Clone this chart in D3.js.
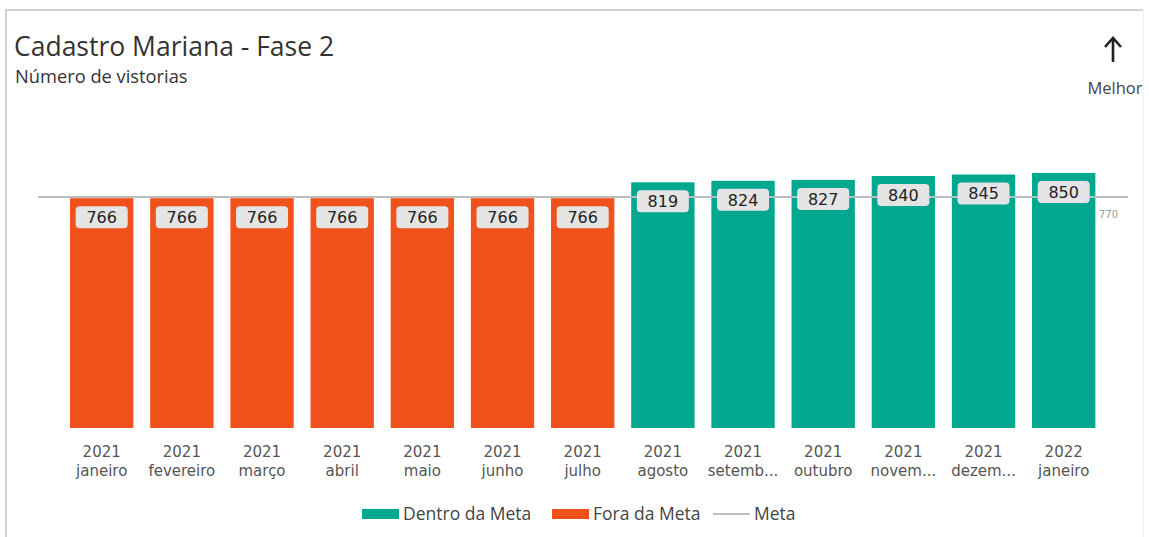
<!DOCTYPE html>
<html>
<head>
<meta charset="utf-8">
<script src="https://cdn.jsdelivr.net/npm/d3@7"></script>
<style>
  body { margin: 0; background: #fff; }
  svg { display: block; }
</style>
</head>
<body>
<svg></svg>
<script>
const width = 1149;
const height = 537;

// data
const years = ['2021', '2021', '2021', '2021', '2021', '2021', '2021', '2021', '2021', '2021', '2021', '2021', '2022'];
const months = ['janeiro', 'fevereiro', 'março', 'abril', 'maio', 'junho', 'julho', 'agosto', 'setemb...', 'outubro', 'novem...', 'dezem...', 'janeiro'];
const vistorias = [766, 766, 766, 766, 766, 766, 766, 819, 824, 827, 840, 845, 850];
const meta = 770;
const legendLabels = ['Dentro da Meta', 'Fora da Meta', 'Meta'];

const teal = '#01a88f';
const orange = '#f1511b';

const data = vistorias.map((v, i) => ({ i, year: years[i], month: months[i], value: v }));

const svg = d3.select('svg')
  .attr('width', width)
  .attr('height', height);

// frame
svg.append('path')
  .attr('d', `M6,${height} V10 H1143`)
  .attr('fill', 'none')
  .attr('stroke', '#d2d2d2')
  .attr('stroke-width', 2);
svg.append('line')
  .attr('x1', 1143).attr('x2', 1143)
  .attr('y1', 10).attr('y2', height)
  .attr('stroke', '#eeeeee')
  .attr('stroke-width', 1);

const xScale = d3.scaleBand()
  .domain(data.map(d => d.i))
  .range([53.2, 1112.2])
  .padding(0.21);

const yScale = d3.scaleLinear()
  .domain([0, 1000])
  .range([428, 128]);

// ====================================
// Title
// ====================================
svg.append('text')
  .text('Cadastro Mariana - Fase 2')
  .attr('x', 14)
  .attr('y', 56)
  .attr('font-family', 'Open Sans, Noto Sans, sans-serif')
  .attr('font-size', 26.5)
  .attr('fill', '#333');

svg.append('text')
  .text('Número de vistorias')
  .attr('x', 15)
  .attr('y', 83)
  .attr('font-family', 'Open Sans, Noto Sans, sans-serif')
  .attr('font-size', 18.3)
  .attr('fill', '#333');

// "Melhor" arrow
svg.append('path')
  .attr('d', 'M1113,38 V62 M1105,47 L1113,38 L1121,47')
  .attr('fill', 'none')
  .attr('stroke', '#222')
  .attr('stroke-width', 2.6);

svg.append('text')
  .text('Melhor')
  .attr('x', 1115)
  .attr('y', 94)
  .attr('text-anchor', 'middle')
  .attr('font-family', 'Open Sans, Noto Sans, sans-serif')
  .attr('font-size', 16.5)
  .attr('fill', '#444');

// ====================================
// Bars
// ====================================
svg.selectAll('rect.bar')
  .data(data)
  .enter()
  .append('rect')
  .attr('class', 'bar')
  .attr('x', d => xScale(d.i))
  .attr('y', d => yScale(d.value))
  .attr('width', xScale.bandwidth())
  .attr('height', d => yScale(0) - yScale(d.value))
  .attr('fill', d => d.value >= meta ? teal : orange);

// meta line
svg.append('line')
  .attr('x1', 38)
  .attr('x2', 1128)
  .attr('y1', yScale(meta))
  .attr('y2', yScale(meta))
  .attr('stroke', '#bdbdbd')
  .attr('stroke-width', 2);

svg.append('text')
  .text(meta)
  .attr('x', 1099)
  .attr('y', yScale(meta) + 21)
  .attr('font-family', 'DejaVu Sans, sans-serif')
  .attr('font-size', 10)
  .attr('fill', '#999');

// value labels
const labels = svg.selectAll('g.label')
  .data(data)
  .enter()
  .append('g')
  .attr('class', 'label')
  .attr('transform', d => `translate(${xScale(d.i) + xScale.bandwidth() / 2}, ${yScale(d.value) + 19})`);

labels.append('rect')
  .attr('x', -26)
  .attr('y', -11)
  .attr('width', 52)
  .attr('height', 22)
  .attr('rx', 4)
  .attr('fill', '#e4e4e4');

labels.append('text')
  .text(d => d.value)
  .attr('text-anchor', 'middle')
  .attr('dy', '0.36em')
  .attr('font-family', 'DejaVu Sans, sans-serif')
  .attr('font-size', 16)
  .attr('fill', '#222');

// ====================================
// X Axis labels
// ====================================
const ticks = svg.selectAll('text.tick')
  .data(data)
  .enter()
  .append('text')
  .attr('class', 'tick')
  .attr('x', d => xScale(d.i) + xScale.bandwidth() / 2)
  .attr('y', 457)
  .attr('text-anchor', 'middle')
  .attr('font-family', 'DejaVu Sans, sans-serif')
  .attr('font-size', 15)
  .attr('fill', '#555');

ticks.append('tspan')
  .attr('x', d => xScale(d.i) + xScale.bandwidth() / 2)
  .text(d => d.year);

ticks.append('tspan')
  .attr('x', d => xScale(d.i) + xScale.bandwidth() / 2)
  .attr('dy', 19)
  .text(d => d.month);

// ====================================
// Legend
// ====================================
const legend = svg.append('g')
  .attr('font-family', 'Open Sans, Noto Sans, sans-serif')
  .attr('font-size', 17.5)
  .attr('fill', '#444');

const legendX = [362, 552, 713];
legendLabels.forEach((label, k) => {
  const g = legend.append('g').attr('transform', `translate(${legendX[k]}, 514)`);
  if (k < 2) {
    g.append('rect')
      .attr('x', 0).attr('y', -5)
      .attr('width', 37).attr('height', 10)
      .attr('fill', k === 0 ? teal : orange);
  } else {
    g.append('line')
      .attr('x1', 0).attr('x2', 37)
      .attr('stroke', '#aaa').attr('stroke-width', 1.5);
  }
  g.append('text')
    .text(label)
    .attr('x', 41)
    .attr('dy', '0.35em');
});
</script>
</body>
</html>
